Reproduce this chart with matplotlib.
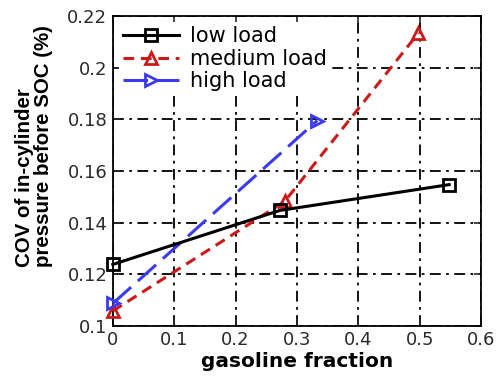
import matplotlib
matplotlib.use("Agg")
import matplotlib.pyplot as plt

# reference looks horizontally stretched, so the wider DejaVu fits the x texts
plt.rcParams['font.family'] = ['DejaVu Sans']

low_x = [0.0, 0.272, 0.548]
low_y = [0.1238, 0.1447, 0.1547]
med_x = [0.0, 0.28, 0.498]
med_y = [0.1058, 0.1482, 0.2134]
high_x = [0.0, 0.333]
high_y = [0.1087, 0.1795]

xticks = [0, 0.1, 0.2, 0.3, 0.4, 0.5, 0.6]
xticklabels = ['0', '0.1', '0.2', '0.3', '0.4', '0.5', '0.6']
yticks = [0.1, 0.12, 0.14, 0.16, 0.18, 0.2, 0.22]
yticklabels = ['0.1', '0.12', '0.14', '0.16', '0.18', '0.2', '0.22']

fig = plt.figure(figsize=(4.97, 3.79), dpi=100)
ax = fig.add_axes([0.227, 0.140, 0.741, 0.818])

ax.plot(low_x, low_y, color='black', lw=2.2, marker='s', ms=8, mfc='none',
        mew=2, label='low load', clip_on=False, zorder=4)
ax.plot(med_x, med_y, color='#cc1a1a', lw=2.2, ls=(0, (3.5, 2.2)), marker='^', ms=8,
        mfc='none', mew=2, label='medium load', clip_on=False, zorder=3)
ax.plot(high_x, high_y, color='#3a3aee', lw=2.2, ls=(0, (8, 3)), marker='>', ms=8,
        mfc='none', mew=2, label='high load', clip_on=False, zorder=3)

ax.set_xlim(0, 0.6)
ax.set_ylim(0.1, 0.22)
ax.set_xticks(xticks)
ax.set_xticklabels(xticklabels)
ax.set_yticks(yticks)
ax.set_yticklabels(yticklabels)
ax.tick_params(direction='in', labelsize=13, length=5, width=1.2, top=True, right=True,
               colors='#2a2a2a', pad=4)
ax.grid(True, color='black', ls=(0, (6, 3, 1.5, 3)), lw=1.3)
for s in ax.spines.values():
    s.set_linewidth(1.3)

ax.set_xlabel('gasoline fraction', fontsize=14.5, fontweight='bold', labelpad=2)
fig.text(0.0694, 1 - 267 / 379, 'COV of in-cylinder\npressure before SOC (%)',
         rotation=90, ha='center', va='bottom', multialignment='left',
         fontsize=14.8, fontweight='bold', family='Liberation Sans', linespacing=1.0)

leg = ax.legend(loc='upper left', fontsize=15, frameon=True, fancybox=False,
                edgecolor='none', framealpha=1, handlelength=2.7,
                borderpad=0.2, labelspacing=0.12, handletextpad=0.5,
                borderaxespad=0.3)

fig.savefig('out.png', dpi=100)
